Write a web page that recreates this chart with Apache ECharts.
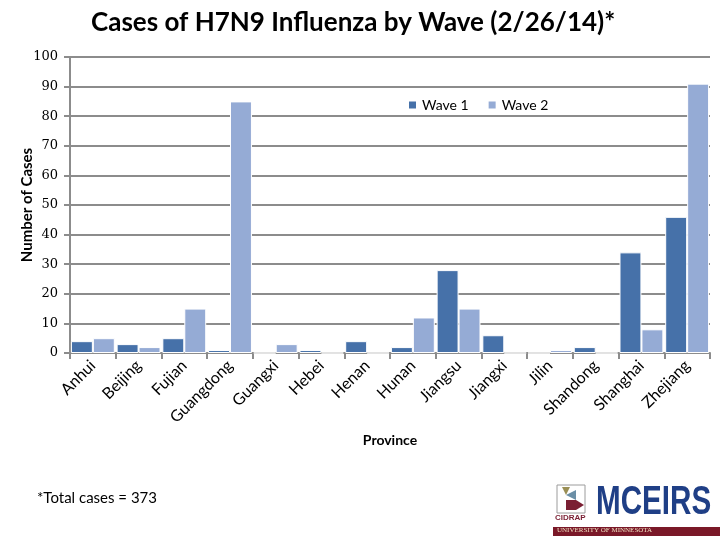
<!DOCTYPE html>
<html><head><meta charset="utf-8">
<script src="https://cdn.jsdelivr.net/npm/echarts@6/dist/echarts.min.js"></script>
<style>html,body{margin:0;padding:0;background:#fff}#c{width:720px;height:540px}</style>
</head><body><div id="c"></div>
<script>
const provinces = ['Anhui','Beijing','Fujian','Guangdong','Guangxi','Hebei','Henan','Hunan','Jiangsu','Jiangxi','Jilin','Shandong','Shanghai','Zhejiang'];
const wave1 = [4,3,5,1,0,1,4,2,28,6,0,2,34,46];
const wave2 = [5,2,15,85,3,0,0,12,15,0,1,0,8,91];
const yTicks = {min:0, max:100, interval:10};

const chart = echarts.init(document.getElementById('c'));
const gridColor = '#8c8c8c';
chart.setOption({
  animation:false,
  backgroundColor:'#fff',
  title:{text:'Cases of H7N9 Influenza by Wave (2/26/14)*', left:86, top:5,
    textStyle:{fontFamily:'Lato', fontWeight:'bold', fontSize:26, color:'#000'}},
  legend:{data:['Wave 1','Wave 2'], left:402, top:93, itemWidth:9, itemHeight:9, itemGap:18,
    icon:'rect', textStyle:{fontFamily:'Lato', fontSize:14, color:'#000'}},
  grid:{left:70, right:10, top:57, bottom:187},
  xAxis:{type:'category', data:provinces,
    name:'Province', nameLocation:'middle', nameGap:80,
    nameTextStyle:{fontFamily:'Lato', fontWeight:'bold', fontSize:14, color:'#000'},
    axisLine:{lineStyle:{color:gridColor, width:2}},
    axisTick:{show:true, alignWithLabel:false, length:6, lineStyle:{color:gridColor, width:2}},
    axisLabel:{rotate:45, fontFamily:'Lato', fontSize:16, color:'#000', margin:10, interval:0}},
  yAxis:{type:'value', min:yTicks.min, max:yTicks.max, interval:yTicks.interval,
    name:'Number of Cases', nameLocation:'middle', nameGap:35, nameRotate:90, nameMoveOverlap:false,
    nameTextStyle:{fontFamily:'Lato', fontWeight:'bold', fontSize:15, color:'#000'},
    axisLine:{show:true, lineStyle:{color:gridColor, width:2}},
    axisTick:{show:true, length:6, lineStyle:{color:gridColor, width:2}},
    splitLine:{lineStyle:{color:gridColor, width:2}},
    axisLabel:{fontFamily:'DejaVu Serif', fontSize:13, color:'#000', margin:12}},
  series:[
    {name:'Wave 1', type:'bar', data:wave1, barGap:'0%', barCategoryGap:'4%',
      itemStyle:{color:'#4671A9', borderColor:'#fff', borderWidth:1}},
    {name:'Wave 2', type:'bar', data:wave2,
      itemStyle:{color:'#95ABD5', borderColor:'#fff', borderWidth:1}}
  ],
  graphic:[
    {type:'text', left:37, top:491, style:{text:'*Total cases = 373', font:'15px Lato', fill:'#000'}},
    {type:'polygon', shape:{points:[[562,487],[570,487],[566,495]]}, style:{fill:'#9a8f55'}},
    {type:'polygon', shape:{points:[[566,495],[576,490],[576,500]]}, style:{fill:'#6b8fa6'}},
    {type:'polygon', shape:{points:[[566,500],[576,500],[584,505],[576,510],[566,510]]}, style:{fill:'#7a1f33'}},
    {type:'rect', shape:{x:557, y:485, width:28, height:28}, style:{fill:'none', stroke:'#9c9c9c', lineWidth:1}},
    {type:'text', left:555, top:514, style:{text:'CIDRAP', font:'bold 8px "Liberation Sans"', fill:'#7a1f33'}},
    {type:'text', x:596, y:483, scaleX:0.74, style:{x:0, y:0, text:'MCEIRS', font:'bold 40px "Liberation Sans"', fill:'#1f3f86', textVerticalAlign:'top'}},
    {type:'rect', shape:{x:553, y:527, width:167, height:9}, style:{fill:'#7a1828'}},
    {type:'text', left:557, top:527, style:{text:'UNIVERSITY OF MINNESOTA', font:'7px "Liberation Serif"', fill:'#f0e0c0'}}
  ]
});
</script></body></html>
